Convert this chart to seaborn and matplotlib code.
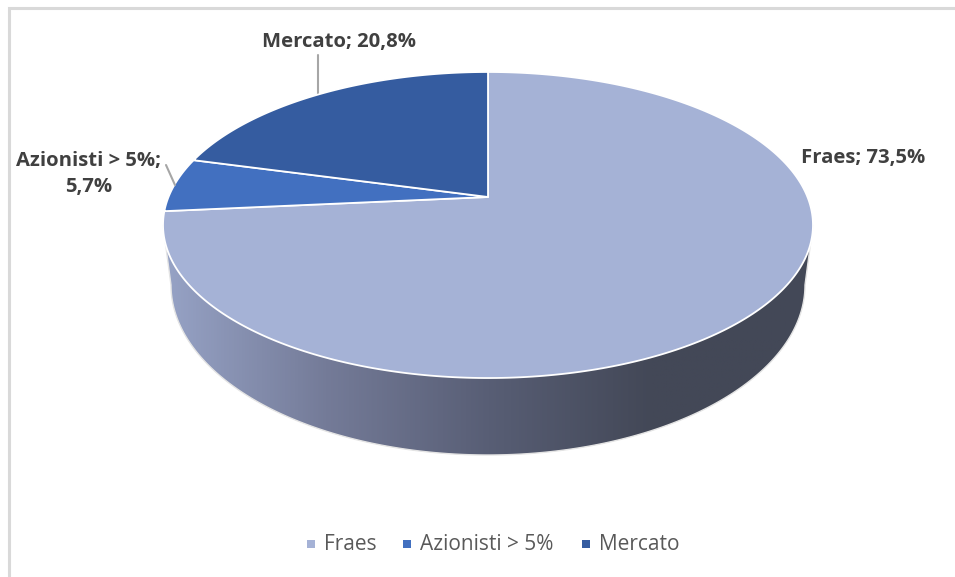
import numpy as np
import matplotlib
matplotlib.use("Agg")
import matplotlib.pyplot as plt
from matplotlib.colors import LinearSegmentedColormap
from matplotlib.patches import Polygon, Rectangle
from matplotlib.lines import Line2D
import seaborn as sns

categories = ["Fraes", "Azionisti > 5%", "Mercato"]
values = [73.5, 5.7, 20.8]
value_labels = ["73,5%", "5,7%", "20,8%"]
colors = ["#A5B2D6", "#4270C0", "#355CA0"]

sns.set_theme(style="white")
plt.rcParams["font.family"] = ["Open Sans", "DejaVu Sans"]

W, H = 955, 577
fig = plt.figure(figsize=(W / 100, H / 100), dpi=100)
ax = fig.add_axes([0, 0, 1, 1])

# the library works out the slice angles; they are then put into perspective
wedges, _ = ax.pie(values, colors=colors, startangle=90, counterclock=False)
ax.set_aspect("auto")
ax.set_xlim(0, W)
ax.set_ylim(H, 0)
ax.axis("off")

CX, CY, T, K, S = 488, 197, 147.9, 0.183, 319.5


def project(theta_deg):
    t = np.radians(theta_deg)
    x, y = np.cos(t), np.sin(t)
    d = 1 + K * y
    return CX + S * x / d, CY - T * y / d


# side wall
low = np.linspace(0, np.pi, 361)
low_x, low_y = 488 + 317 * np.cos(low), 285 + 170 * np.sin(low)
wall_pts = np.column_stack([
    np.r_[813, low_x, 163],
    np.r_[225, low_y, 225],
])
wall = Polygon(wall_pts, closed=True, facecolor="none", edgecolor="none", transform=ax.transData)
ax.add_patch(wall)
shade = LinearSegmentedColormap.from_list(
    "wall", ["#97A3C6", "#747B98", "#585E75", "#434857", "#434857"])
grad = np.linspace(0, 1, 512).reshape(1, -1)
im = ax.imshow(grad, extent=(163, 813, 455, 225), cmap=shade, aspect="auto", zorder=1)
im.set_clip_path(wall)
ax.set_xlim(0, W)
ax.set_ylim(H, 0)
ax.add_patch(Polygon(wall_pts, closed=True, facecolor="none", edgecolor="#E4E4E4", lw=1, zorder=2))

# top surface
for w, c in zip(wedges, colors):
    th = np.linspace(w.theta1, w.theta2, 300)
    px, py = project(th)
    pts = np.column_stack([np.r_[CX, px], np.r_[CY, py]])
    w.set_visible(False)
    ax.add_patch(Polygon(pts, closed=True, facecolor=c, edgecolor="white", lw=1.3,
                         joinstyle="round", zorder=3))

# data labels
label_color = "#404040"
lab = dict(color=label_color, fontsize=14.6, fontweight="bold", ha="center", va="center", zorder=5)
ax.text(863, 157.5, f"{categories[0]}; {value_labels[0]}", **lab)
ax.text(88.5, 174, f"{categories[1]};\n{value_labels[1]}", linespacing=1.37, **lab)
ax.text(339, 42, f"{categories[2]}; {value_labels[2]}", **lab)
ax.add_line(Line2D([166, 175], [165, 185], color="#A6A6A6", lw=1.5, zorder=4))
ax.add_line(Line2D([318, 318], [55, 95], color="#A6A6A6", lw=1.5, zorder=2.5))

# legend
leg_text = "#595959"
for mx, tx, c, name in zip([311, 407, 586], [324, 420, 599], colors, categories):
    ax.add_patch(Rectangle((mx - 4, 544 - 4), 8, 8, facecolor=c, edgecolor="none"))
    ax.text(tx, 544, name, color=leg_text, fontsize=15, ha="left", va="center")

# chart frame
ax.add_line(Line2D([9, 9, 955], [577, 8, 8], color="#D9D9D9", lw=2.2, solid_joinstyle="miter"))

fig.savefig("out.png", dpi=100, facecolor="white")
